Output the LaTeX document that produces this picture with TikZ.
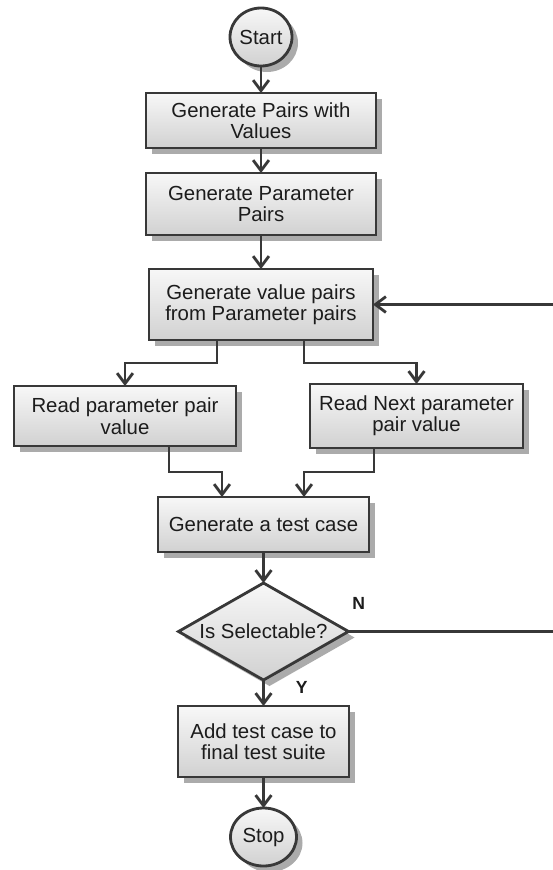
\documentclass[tikz,border=0pt]{standalone}
\usepackage{fontspec}
\setmainfont{Liberation Sans}
\usepackage{tikz}
\usetikzlibrary{positioning,shapes.geometric,arrows.meta,shadows}
\definecolor{edge}{HTML}{383838}
\definecolor{ink}{HTML}{1C1C1C}
\definecolor{shade}{HTML}{ABABAB}
\tikzset{
    procbox/.style={rectangle, draw=edge, line width=1.6pt, outer sep=0pt, top color=black!3, bottom color=black!18, align=center, inner sep=2pt, font=\fontsize{11.6}{12.2}\selectfont, text=ink, drop shadow={shadow xshift=0.12cm, shadow yshift=-0.12cm, fill=shade, opacity=1}},
    terminal/.style={procbox, ellipse, inner sep=0pt},
    decision/.style={procbox, diamond, aspect=1.75, inner sep=0pt},
    arrow/.style={-{Straight Barb[length=6pt, width=9pt]}, line width=1.6pt, color=edge},
    flag/.style={font=\fontsize{10}{12}\selectfont\bfseries, text=ink}
}
\begin{document}
\begin{tikzpicture}
\useasboundingbox (0,0) rectangle (11.06,-17.4);

% Main column
\node[terminal, minimum width=1.24cm, minimum height=1.16cm] (start) at (5.22,-0.74) {Start};
\node[procbox, minimum width=4.6cm, minimum height=1.1cm, below=0.54cm of start] (pairs) {Generate Pairs with\\Values};
\node[procbox, minimum width=4.6cm, minimum height=1.24cm, below=0.5cm of pairs] (params) {Generate Parameter\\Pairs};
\node[procbox, minimum width=4.48cm, minimum height=1.42cm, below=0.68cm of params] (valpairs) {Generate value pairs\\from Parameter pairs};

% Two branches
\node[procbox, minimum width=4.44cm, minimum height=1.2cm, below=0.92cm of valpairs, xshift=-2.72cm] (readA) {Read parameter pair\\value};
\node[procbox, minimum width=4.26cm, minimum height=1.28cm, below=0.88cm of valpairs, xshift=3.11cm] (readB) {Read Next parameter\\pair value};

% Merge and decision
\node[procbox, minimum width=4.22cm, minimum height=1.1cm, below=3.14cm of valpairs, xshift=0.05cm] (testcase) {Generate a test case};
\node[decision, minimum width=3.4cm, minimum height=1.94cm, below=0.62cm of testcase] (select) {Is Selectable?};
\node[procbox, minimum width=3.42cm, minimum height=1.42cm, below=0.52cm of select] (suite) {Add test case to\\final test suite};
\node[terminal, minimum width=1.32cm, minimum height=1.16cm, below=0.62cm of suite] (stop) {Stop};
\coordinate (rim) at (11.06,0);

% Straight flow
\draw[arrow] (start) -- (pairs);
\draw[arrow] (pairs) -- (params);
\draw[arrow] (params) -- (valpairs);
\draw[arrow] (testcase) -- (select);
\draw[arrow] (select) -- node[flag, pos=0.3, right=0.5cm] {Y} (suite);
\draw[arrow] (suite) -- (stop);

% Split and join
\draw[arrow] ([xshift=-0.88cm]valpairs.south) -- ++(0,-0.46) -| (readA.north);
\draw[arrow] ([xshift=0.86cm]valpairs.south) -- ++(0,-0.46) -| (readB.north);
\draw[arrow] ([xshift=0.88cm]readA.south) -- ++(0,-0.52) -| ([xshift=-0.83cm]testcase.north);
\draw[arrow] ([xshift=-0.85cm]readB.south) -- ++(0,-0.48) -| ([xshift=0.81cm]testcase.north);

% Loop back
\draw[line width=1.6pt, color=edge] (select.east) -- node[flag, pos=0.05, above=0.3cm] {N} (select.east -| rim);
\draw[arrow] (valpairs.east -| rim) -- (valpairs.east);

\end{tikzpicture}
\end{document}
